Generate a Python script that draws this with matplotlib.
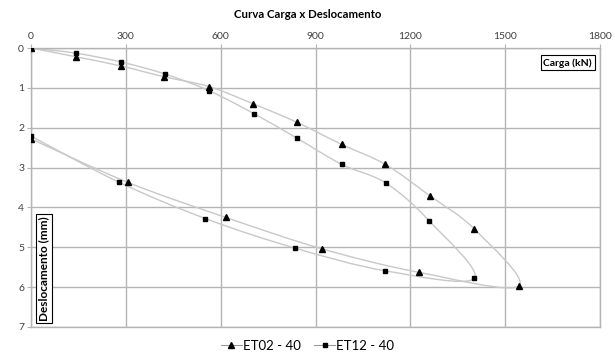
import matplotlib
matplotlib.use("Agg")
import matplotlib.pyplot as plt
from matplotlib.path import Path
from matplotlib.patches import PathPatch
import numpy as np

plt.rcParams['font.family'] = ['Lato', 'DejaVu Sans']

title = "Curva Carga x Deslocamento"
series_names = ["ET02 - 40", "ET12 - 40"]
et02_load = [0, 142, 284, 420, 564, 703, 840, 983, 1121, 1262, 1402, 1543, 1228, 921, 616, 306, 0]
et02_disp = [0, 0.22, 0.45, 0.72, 0.97, 1.40, 1.86, 2.42, 2.92, 3.71, 4.54, 5.97, 5.63, 5.04, 4.25, 3.37, 2.28]
et12_load = [0, 142, 284, 423, 563, 706, 843, 983, 1123, 1260, 1402, 1121, 835, 552, 279, 0]
et12_disp = [0, 0.13, 0.35, 0.65, 1.07, 1.65, 2.27, 2.92, 3.39, 4.34, 5.78, 5.59, 5.02, 4.28, 3.37, 2.21]
x_ticks = [0, 300, 600, 900, 1200, 1500, 1800]
y_ticks = [0, 1, 2, 3, 4, 5, 6, 7]

fig = plt.figure(figsize=(6.15, 3.54), dpi=100)
ax = fig.add_axes([31/615, 1-327/354, (600-31)/615, (327-48)/354])

grid_c = '#b4b4b4'
line_c = '#c8c8c8'


def smooth_path(xs, ys):
    pts = np.column_stack([xs, ys]).astype(float)
    verts = [pts[0]]
    codes = [Path.MOVETO]
    n = len(pts)
    for i in range(n - 1):
        p0 = pts[i - 1] if i > 0 else pts[i]
        p1 = pts[i]
        p2 = pts[i + 1]
        p3 = pts[i + 2] if i + 2 < n else pts[i + 1]
        c1 = p1 + (p2 - p0) / 6.0
        c2 = p2 - (p3 - p1) / 6.0
        verts += [c1, c2, p2]
        codes += [Path.CURVE4] * 3
    return Path(verts, codes)


for xs, ys, mk, ms, lms, name in [(et02_load, et02_disp, '^', 5, 4.5, series_names[0]),
                                    (et12_load, et12_disp, 's', 3.5, 3.2, series_names[1])]:
    patch = PathPatch(smooth_path(xs, ys), facecolor='none', edgecolor=line_c, lw=1.0, zorder=2)
    ax.add_patch(patch)
    ax.plot(xs, ys, linestyle='none', marker=mk, ms=ms, color='black', zorder=3)
    ax.plot([], [], color='#999999', lw=0.8, marker=mk, ms=lms, mfc='black', mec='black', label=name)

ax.set_xlim(0, 1800)
ax.set_ylim(7, 0)
ax.xaxis.tick_top()
ax.set_xticks(x_ticks)
ax.set_yticks(y_ticks)
ax.tick_params(axis='both', labelsize=7.5, colors='#404040', length=3, color=grid_c)
ax.tick_params(axis='x', pad=2)
ax.tick_params(axis='y', pad=2)
ax.grid(True, color=grid_c, lw=1.0)
ax.set_axisbelow(True)
for s in ax.spines.values():
    s.set_color(grid_c)
    s.set_linewidth(1.0)

fig.text(0.5, 1-15/354, title, ha='center', va='center', fontsize=8.2, fontweight='bold')

ax.text(0.986, 0.947, "Carga (kN)", transform=ax.transAxes, ha='right', va='center', fontsize=7.5,
        fontweight='bold', bbox=dict(boxstyle='square,pad=0.25', fc='white', ec='black', lw=0.8))
ax.text(0.0225, 0.21, "Deslocamento (mm)", transform=ax.transAxes, ha='center', va='center', fontsize=8.5,
        fontweight='bold', rotation=90,
        bbox=dict(boxstyle='square,pad=0.2', fc='white', ec='black', lw=0.8))

fig.legend(loc='center', bbox_to_anchor=(0.5, 1-346/354), ncol=2, frameon=False, fontsize=9.5,
           handlelength=1.6, handletextpad=0.1, columnspacing=1.0)

fig.savefig('out.png', dpi=100)
